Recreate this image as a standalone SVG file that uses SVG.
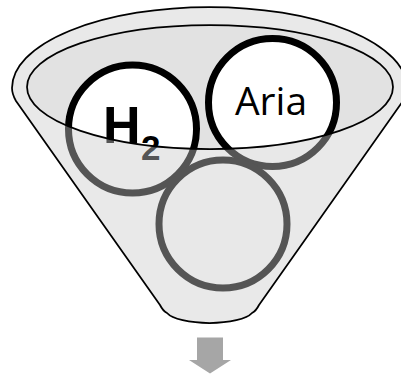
<svg xmlns="http://www.w3.org/2000/svg" width="401" height="376" viewBox="0 0 401 376">
  <style>
    .outline { stroke: #000; stroke-width: 1.75; stroke-linejoin: round; }
    .ring-front { fill: #fff; stroke: #000; stroke-width: 7; }
    .ring-back { fill: #e8e8e8; stroke: #555; stroke-width: 7; }
    .label { font-family: "Liberation Sans", Arial, sans-serif; }
    .label-soft { font-family: "Open Sans", "Liberation Sans", sans-serif; }
    .front-text { fill: #000; }
    .back-text { fill: #555; }
  </style>
  <defs>
    <!-- region above the lower rim edge: items here are seen in full -->
    <clipPath id="aboveRim">
      <path d="M -5,-5 H 406 V 87 H 393 A 183 62 0 0 1 27 87 H -5 Z"/>
    </clipPath>
    <!-- region inside the funnel body, in front of the items -->
    <clipPath id="belowRim">
      <path d="M -5,87 H 27 A 183 62 0 0 0 393 87 H 406 V 380 H -5 Z"/>
    </clipPath>
  </defs>

  <!-- funnel body and rim opening -->
  <g id="funnel">
    <path class="outline" fill="#e9e9e9"
          d="M 12,88 A 197.5 81 0 0 1 407,88 Q 407,94 403,101 L 259,305 Q 256,311 252,313 A 44 13.5 0 0 1 167,313 Q 163,311 160,305 L 16,101 Q 12,94 12,88 Z"/>
    <ellipse cx="210" cy="87" rx="183" ry="62" fill="#e2e2e2"/>
  </g>

  <!-- item: H2 -->
  <g id="node-h2">
    <g clip-path="url(#belowRim)">
      <circle class="ring-back" cx="132.5" cy="129" r="64"/>
      <text class="label back-text" x="103" y="143" font-size="52" font-weight="bold">H</text>
      <text class="label back-text" x="141" y="160" font-size="35" font-weight="bold">2</text>
    </g>
    <g clip-path="url(#aboveRim)">
      <circle class="ring-front" cx="132.5" cy="129" r="64"/>
      <text class="label front-text" x="103" y="143" font-size="52" font-weight="bold">H</text>
      <text class="label front-text" x="141" y="160" font-size="35" font-weight="bold">2</text>
    </g>
  </g>

  <!-- item: Aria -->
  <g id="node-aria">
    <g clip-path="url(#belowRim)">
      <circle class="ring-back" cx="272.5" cy="102.5" r="64"/>
    </g>
    <g clip-path="url(#aboveRim)">
      <circle class="ring-front" cx="272.5" cy="102.5" r="64"/>
      <text class="label-soft front-text" x="271" y="115" font-size="39" text-anchor="middle">Aria</text>
    </g>
  </g>

  <!-- item: empty -->
  <g id="node-empty">
    <circle class="ring-back" cx="223" cy="224" r="64"/>
  </g>

  <!-- rim edge drawn over the items -->
  <g id="rim">
    <ellipse class="outline" cx="210" cy="87" rx="183" ry="62" fill="none"/>
  </g>

  <!-- output arrow -->
  <g id="connectors">
    <polygon fill="#a6a6a6" points="197,337.5 223,337.5 223,360 231,360 210,373.5 189,360 197,360"/>
  </g>
</svg>
